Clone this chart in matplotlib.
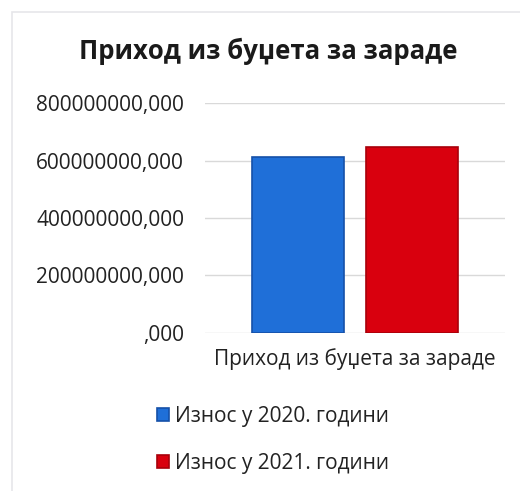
import matplotlib
matplotlib.use("Agg")
import matplotlib.pyplot as plt
from matplotlib.ticker import FuncFormatter
from matplotlib.patches import Rectangle

plt.rcParams['font.family'] = ['Open Sans', 'DejaVu Sans']

# data
category = 'Приход из буџета за зараде'
series_names = ['Износ у 2020. години', 'Износ у 2021. години']
values = [612000000, 647000000]
colors = ['#1f6fd8', '#d9000e']
edge_colors = ['#1550a8', '#a8000a']


def fmt(v, pos):
    s = f"{v:.3f}".replace('.', ',')
    if s.startswith('0,'):
        s = s[1:]
    return s


fig = plt.figure(figsize=(5.2, 4.91), dpi=100)
# faint chart-area frame (right/bottom run off the page)
fig.patches.append(Rectangle((0.023, -0.1), 1.2, 1.076, transform=fig.transFigure,
                             fill=False, edgecolor='#e6e6ea', linewidth=1.2))

ax = fig.add_axes([0.394, 0.322, 0.577, 0.468])
offsets = [-0.19, 0.19]
for name, val, off, c, ec in zip(series_names, values, offsets, colors, edge_colors):
    ax.bar(off, val, width=0.307, color=c, edgecolor=ec, linewidth=1.2, label=name, zorder=3)

ax.set_xlim(-0.5, 0.5)
ax.set_ylim(0, 800000000)
ax.set_yticks([0, 200000000, 400000000, 600000000, 800000000])
ax.yaxis.set_major_formatter(FuncFormatter(fmt))
ax.set_xticks([0])
ax.set_xticklabels([category])
ax.tick_params(axis='both', length=0, labelsize=15, colors='#222222')
ax.tick_params(axis='y', pad=15)
ax.tick_params(axis='x', pad=11)
ax.grid(axis='y', color='#d9d9d9', linewidth=1, zorder=0)
for s in ax.spines.values():
    s.set_visible(False)

fig.text(0.516, 0.895, category, ha='center', va='center', fontsize=18.5,
         fontweight='bold', color='#1a1a1a')

leg = fig.legend(loc='center', bbox_to_anchor=(0.525, 0.104), ncol=1, frameon=False,
                 fontsize=15, handlelength=0.6, handleheight=0.6, handletextpad=0.3,
                 labelspacing=1.25)
for t in leg.get_texts():
    t.set_color('#222222')

fig.savefig('out.png', dpi=100)
